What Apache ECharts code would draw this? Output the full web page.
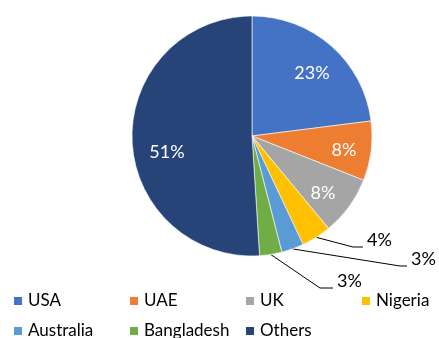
<!DOCTYPE html>
<html>
<head>
<meta charset="utf-8">
<script src="https://cdn.jsdelivr.net/npm/echarts@6/dist/echarts.min.js"></script>
<style>
  html, body { margin: 0; padding: 0; background: #fff; }
  #chart { width: 439px; height: 338px; }
</style>
</head>
<body>
<div id="chart"></div>
<script>
// Share of respondents by country (%)
const countries = ['USA', 'UAE', 'UK', 'Nigeria', 'Australia', 'Bangladesh', 'Others'];
const shares = [23, 8, 8, 4, 3, 3, 51];
const colors = ['#4472C4', '#ED7D31', '#A5A5A5', '#FFC000', '#5B9BD5', '#70AD47', '#264478'];

// Layout settings
const FONT = 'Lato';
const PIE_CENTER = [252, 136];
const PIE_RADIUS = 120;

// Where each percentage label sits: inside labels are centred on the spot,
// callout labels start where their leader line ends.
const labelSpots = [
  { x: 312, y: 73,  inside: true },
  { x: 344, y: 150, inside: true },
  { x: 323, y: 193, inside: true },
  { x: 363, y: 247, inside: false, tail: 10 },
  { x: 407, y: 266, inside: false, tail: 7 },
  { x: 333, y: 288, inside: false, tail: 13 },
  { x: 167, y: 152, inside: true }
];

// Legend grid: 4 columns, 2 rows
const legendCols = [12, 128, 244, 360];
const legendRows = [291, 321];

const chart = echarts.init(document.getElementById('chart'), null, { renderer: 'canvas' });

const pieData = countries.map((name, i) => {
  const spot = labelSpots[i];
  const item = { name, value: shares[i], itemStyle: { color: colors[i] } };
  if (spot.inside) {
    item.label = { position: 'inside', color: '#fff', formatter: '{c}%' };
    item.labelLine = { show: false };
  } else {
    // A short spacer line under the value puts the leader line's end at the text baseline,
    // and a small spacer token keeps a gap between the line and the text.
    item.label = {
      position: 'outside',
      color: '#000',
      lineHeight: 20,
      formatter: p => `{sp|\u00a0}${p.value}%\n{gap|\u00a0}`,
      rich: {
        sp: { width: 4, lineHeight: 20, fontSize: 18 },
        gap: { lineHeight: 14, fontSize: 8 }
      }
    };
    item.labelLine = { show: true, length: 10, length2: spot.tail };
  }
  return item;
});

const legends = countries.map((name, i) => ({
  data: [name],
  left: legendCols[i % 4],
  top: legendRows[Math.floor(i / 4)],
  orient: 'horizontal',
  icon: 'rect',
  itemWidth: 10,
  itemHeight: 10,
  itemGap: 0,
  padding: 0,
  selectedMode: false,
  textStyle: { fontFamily: FONT, fontSize: 17, color: '#000', lineHeight: 20, padding: [0, 0, 0, 0] }
}));

chart.setOption({
  animation: false,
  backgroundColor: '#fff',
  color: colors,
  legend: legends,
  series: [{
    type: 'pie',
    center: PIE_CENTER,
    radius: PIE_RADIUS,
    startAngle: 90,
    clockwise: true,
    avoidLabelOverlap: false,
    itemStyle: { borderColor: '#fff', borderWidth: 0.6 },
    label: {
      show: true,
      fontFamily: FONT,
      fontSize: 18
    },
    labelLine: {
      lineStyle: { color: '#000', width: 1 },
      smooth: false
    },
    labelLayout: params => {
      const spot = labelSpots[params.dataIndex];
      if (spot.inside) {
        return { x: spot.x, y: spot.y, align: 'center', verticalAlign: 'middle' };
      }
      return { x: spot.x, y: spot.y, align: 'left', verticalAlign: 'middle' };
    },
    emphasis: { disabled: true },
    data: pieData
  }]
});
</script>
</body>
</html>
